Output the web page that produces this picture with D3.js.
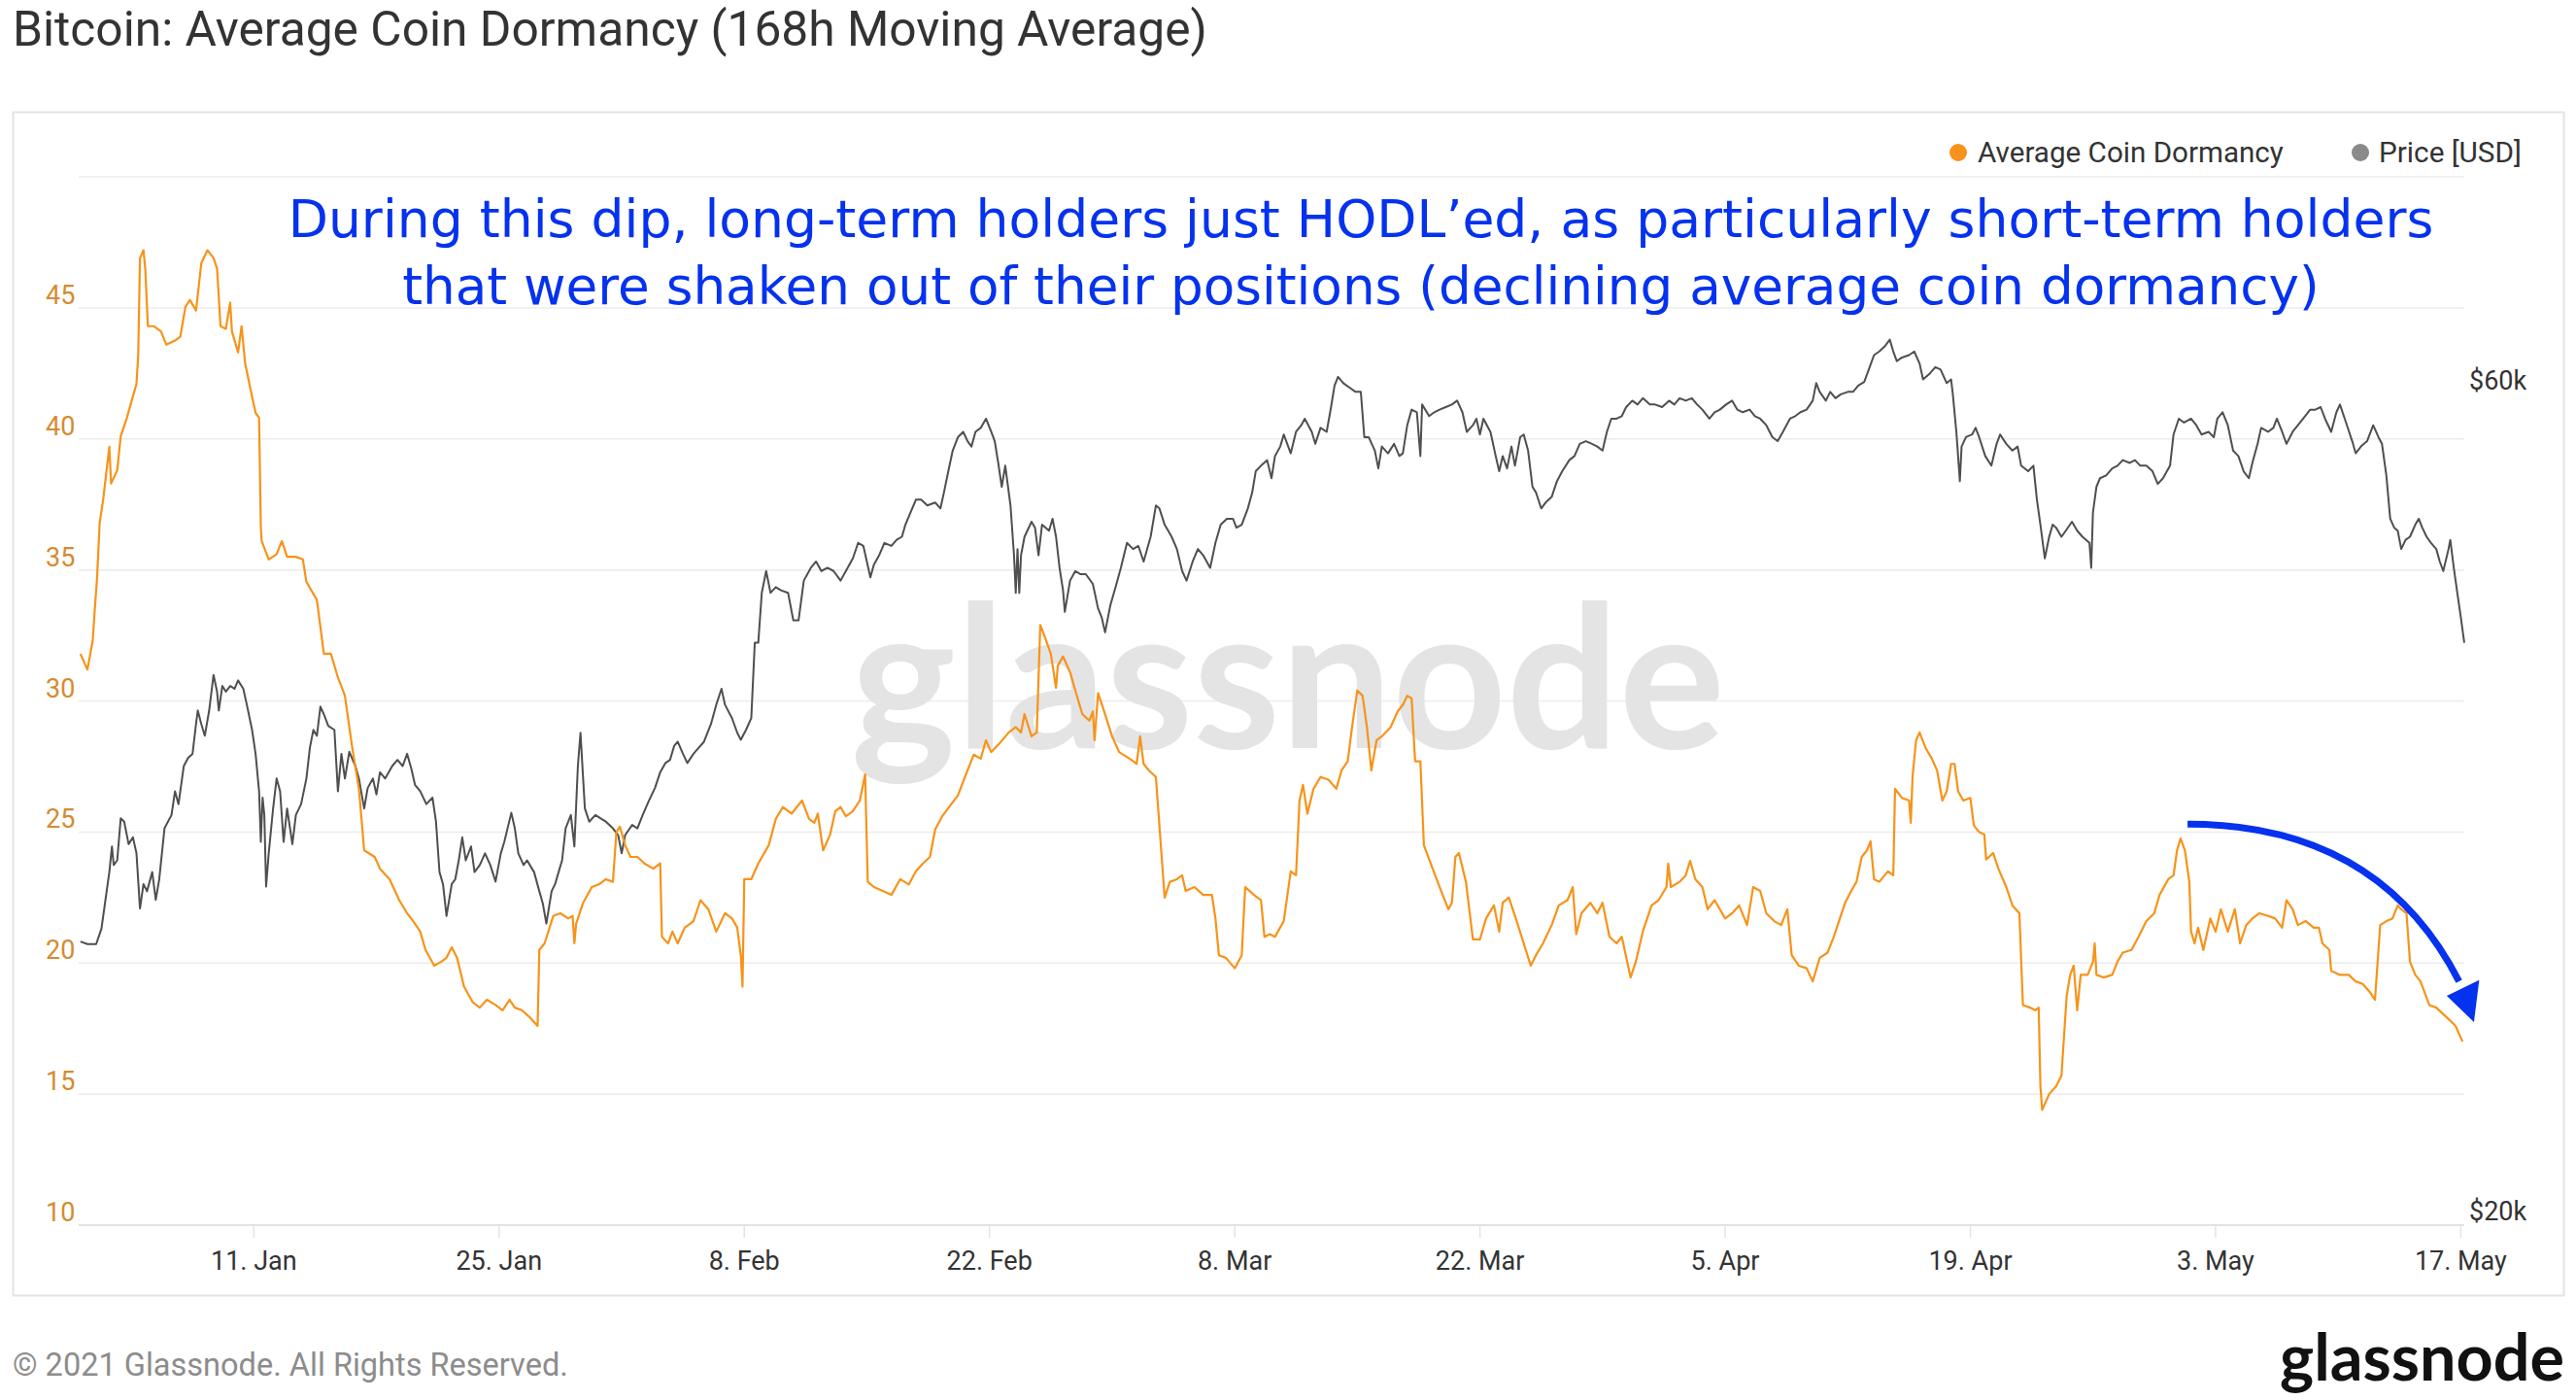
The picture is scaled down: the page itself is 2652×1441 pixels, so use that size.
<!DOCTYPE html>
<html><head><meta charset="utf-8">
<script src="https://cdn.jsdelivr.net/npm/d3@7"></script>
<style>html,body{margin:0;padding:0;background:#fff;}svg{display:block;}</style>
</head><body>
<svg id="chart" width="2652" height="1441"></svg>
<script>
// ---------------- data ----------------
const chartTitle = "Bitcoin: Average Coin Dormancy (168h Moving Average)";
const seriesNames = ["Average Coin Dormancy", "Price [USD]"];
const annotationLines = [
  "During this dip, long-term holders just HODL\u2019ed, as particularly short-term holders",
  "that were shaken out of their positions (declining average coin dormancy)"
];
const copyrightText = "\u00a9 2021 Glassnode. All Rights Reserved.";
const brandText = "glassnode";
const startDate = "2021-01-01T00:00:00Z";
const endDay = 136.2; // days after start shown on the x axis

// Average coin dormancy (days after 1 Jan 2021, value)
const dormancyDay = [0.1,0.5,0.8,0.9,1.05,1.2,1.4,1.75,1.85,2.2,2.4,2.75,3.3,3.4,3.5,3.7,3.8,3.95,4.3,4.7,5.0,5.5,5.8,6.1,6.35,6.7,7.0,7.35,7.7,7.9,8.1,8.4,8.65,8.75,9.1,9.3,9.5,9.9,10.1,10.3,10.4,10.45,10.85,11.3,11.6,11.9,12.4,12.8,13.0,13.6,14.0,14.4,14.8,15.2,15.6,16.0,16.3,16.9,17.2,17.75,18.3,18.75,19.1,19.5,19.8,20.3,20.7,21.0,21.3,21.6,22.0,22.5,22.9,23.3,23.8,24.2,24.6,24.9,25.3,25.8,26.2,26.3,26.6,27.1,27.5,27.95,28.2,28.3,28.4,28.8,29.3,29.7,30.1,30.5,30.7,30.9,31.2,31.5,31.9,32.3,32.8,33.2,33.3,33.65,33.9,34.2,34.6,35.1,35.5,35.95,36.4,36.9,37.3,37.6,37.8,37.9,38.0,38.4,38.8,39.4,39.8,40.2,40.7,41.0,41.3,41.7,42.0,42.2,42.5,42.9,43.2,43.5,43.8,44.2,44.6,44.9,45.05,45.4,45.9,46.4,46.9,47.4,47.8,48.2,48.6,48.9,49.3,49.8,50.2,50.6,51.1,51.5,51.8,52.1,52.6,53.1,53.5,53.8,54.0,54.4,54.7,54.9,55.1,55.5,55.8,55.9,56.2,56.6,56.9,57.3,57.7,57.9,58.0,58.2,58.5,59.0,59.4,60.0,60.4,60.6,60.8,61.1,61.5,62.0,62.3,62.7,63.0,63.2,63.7,64.2,64.7,64.9,65.1,65.5,66.0,66.4,66.6,67.1,67.5,67.7,68.0,68.3,68.8,69.2,69.5,69.7,69.9,70.15,70.5,70.9,71.35,71.8,72.1,72.45,72.7,73.0,73.3,73.55,73.8,74.1,74.4,74.9,75.3,75.6,75.85,76.1,76.3,76.6,76.8,77.3,77.7,78.2,78.4,78.6,78.8,79.2,79.6,80.0,80.35,80.8,81.1,81.3,81.65,82.1,82.5,82.9,83.2,83.6,84.1,84.5,85.0,85.3,85.5,85.8,86.3,86.7,87.0,87.4,87.8,88.1,88.6,88.9,89.3,89.8,90.2,90.65,90.75,90.9,91.4,91.75,92.0,92.3,92.7,93.0,93.4,94.0,94.4,94.8,95.25,95.6,96.0,96.35,96.8,97.2,97.55,97.8,98.2,98.65,99.0,99.4,99.85,100.2,100.5,100.85,101.2,101.5,101.8,102.1,102.3,102.5,102.8,103.3,103.6,103.7,104.1,104.5,104.6,104.7,104.9,105.1,105.45,105.8,106.1,106.4,106.65,106.9,107.1,107.3,107.6,108.0,108.2,108.5,108.8,108.9,109.3,109.6,110.05,110.4,110.8,111.0,111.4,111.7,111.9,112.0,112.1,112.5,112.9,113.2,113.5,113.7,113.9,114.1,114.3,114.7,115.0,115.1,115.2,115.6,116.1,116.4,116.7,117.2,117.6,118.05,118.5,118.8,119.3,119.6,119.8,120.0,120.25,120.5,120.6,120.8,121.0,121.3,121.7,122.0,122.3,122.7,123.1,123.4,123.75,124.1,124.5,125.0,125.4,125.8,126.05,126.4,126.7,127.15,127.6,127.9,128.1,128.5,128.6,129.1,129.6,130.0,130.4,130.8,131.1,131.4,131.75,132.1,132.4,132.6,132.9,133.1,133.4,133.7,134.2,134.6,135.0,135.4,135.7,136.1];
const dormancyValue = [31.8,31.2,32.3,33.3,34.7,36.8,37.7,39.7,38.3,38.8,40.1,40.8,42.1,43.2,46.9,47.2,46.5,44.3,44.3,44.1,43.6,43.75,43.9,45.05,45.3,44.9,46.7,47.2,46.9,46.5,44.3,44.2,45.2,44.1,43.3,44.3,42.9,41.6,41.0,40.8,36.6,36.1,35.4,35.6,36.1,35.5,35.5,35.4,34.55,33.85,31.8,31.8,30.9,30.2,28.3,26.65,24.3,24.05,23.6,23.2,22.4,21.9,21.6,21.2,20.5,19.9,20.05,20.2,20.6,20.2,19.1,18.5,18.3,18.6,18.4,18.2,18.6,18.3,18.2,17.9,17.6,20.5,20.75,21.8,21.9,21.7,21.8,20.75,21.5,22.3,22.9,23.0,23.2,23.1,25.0,25.2,24.5,24.05,24.05,23.8,23.6,23.8,21.0,20.75,21.2,20.75,21.35,21.6,22.4,22.05,21.2,21.9,21.7,21.35,20.3,19.1,23.2,23.2,23.8,24.5,25.5,25.95,25.7,25.95,26.2,25.5,25.35,25.7,24.3,24.9,25.8,25.95,25.6,25.8,26.2,27.2,23.1,22.9,22.75,22.6,23.2,23.0,23.5,23.8,24.05,25.1,25.6,26.05,26.4,27.1,27.95,27.8,28.5,28.05,28.4,28.8,29.0,28.8,29.5,28.65,28.8,32.9,32.55,31.8,30.5,31.35,31.7,31.1,30.4,29.5,29.25,29.6,28.5,30.3,29.7,28.65,28.05,27.8,27.6,28.65,27.6,27.35,27.1,22.5,23.1,23.2,23.35,22.75,22.9,22.6,22.6,21.7,20.3,20.2,19.8,20.3,22.9,22.6,22.4,21.0,21.1,21.0,21.6,23.5,23.35,26.2,26.8,25.7,26.65,27.1,27.0,26.65,27.35,27.7,29.0,30.4,30.2,29.0,27.35,28.5,28.65,29.0,29.6,29.85,30.2,30.1,27.7,27.7,24.5,23.6,22.9,22.05,22.3,24.05,24.2,23.1,20.9,20.9,21.7,22.2,21.2,22.3,22.5,21.6,20.75,19.9,20.3,20.75,21.45,22.2,22.4,22.9,21.1,21.9,22.3,21.9,22.3,21.0,20.75,21.0,19.45,20.05,21.2,22.2,22.4,22.9,23.8,22.9,23.1,23.35,23.9,23.2,22.9,22.05,22.4,21.7,21.9,22.2,21.45,22.9,22.75,21.9,21.6,21.45,22.05,20.3,19.9,19.8,19.3,20.2,20.4,21.0,21.6,22.3,22.75,23.1,24.05,24.3,24.65,23.2,23.1,23.5,23.35,26.65,26.3,26.2,25.35,27.1,28.5,28.8,28.2,27.8,27.35,26.2,26.55,27.6,27.6,26.55,26.2,26.3,25.25,25.0,24.9,23.95,24.2,23.6,22.9,22.2,21.9,18.4,18.3,18.2,18.3,15.3,14.4,15.0,15.3,15.7,18.75,19.55,19.9,18.2,19.55,19.55,20.05,20.75,19.55,19.45,19.55,20.05,20.4,20.5,21.0,21.6,21.9,22.6,23.2,23.35,24.3,24.75,24.3,23.1,21.2,20.75,21.35,20.5,21.7,21.2,22.05,21.2,22.05,20.75,21.45,21.7,21.9,21.8,21.7,21.35,22.4,22.05,21.45,21.6,21.35,21.35,20.75,20.5,19.7,19.55,19.55,19.3,19.2,18.9,18.6,21.45,21.6,21.7,22.2,22.05,21.9,20.05,19.55,19.3,18.4,18.3,18.05,17.8,17.6,17.0];

// BTC price in thousand USD (days after 1 Jan 2021, value)
const priceDay = [0.1,0.5,1.0,1.3,1.5,1.75,1.9,2.0,2.2,2.4,2.6,2.85,3.1,3.3,3.5,3.7,3.9,4.2,4.4,4.6,4.9,5.3,5.5,5.7,6.0,6.25,6.5,6.7,6.8,7.0,7.2,7.45,7.7,7.9,8.0,8.2,8.4,8.65,8.9,9.1,9.4,9.6,9.9,10.1,10.3,10.4,10.5,10.6,10.7,10.85,11.1,11.3,11.5,11.7,11.9,12.2,12.4,12.7,13.0,13.2,13.4,13.6,13.8,14.0,14.25,14.6,14.8,15.0,15.2,15.45,15.8,16.0,16.3,16.5,16.8,17.0,17.2,17.5,17.9,18.2,18.5,18.75,19.0,19.2,19.5,19.85,20.2,20.4,20.6,20.8,21.0,21.3,21.5,21.7,21.9,22.1,22.4,22.6,22.9,23.2,23.5,23.8,24.1,24.3,24.7,24.9,25.1,25.4,25.6,26.0,26.3,26.5,26.7,27.0,27.2,27.4,27.6,27.8,28.1,28.3,28.5,28.65,28.8,28.9,29.15,29.5,29.8,30.1,30.5,30.8,31.0,31.2,31.6,31.9,32.2,32.55,32.9,33.2,33.5,33.76,34.0,34.2,34.5,34.75,35.1,35.4,35.7,36.1,36.4,36.7,36.9,37.3,37.6,37.8,38.1,38.4,38.6,38.8,39.0,39.25,39.5,39.8,40.1,40.5,40.8,41.1,41.4,41.8,42.1,42.4,42.75,43.1,43.5,43.8,44.2,44.5,44.8,45.2,45.4,45.7,46.0,46.4,46.7,47.0,47.2,47.5,47.8,48.1,48.45,48.9,49.2,49.4,49.65,49.9,50.2,50.5,50.75,50.97,51.2,51.5,51.8,52.1,52.3,52.5,52.7,52.9,53.2,53.4,53.5,53.6,53.7,53.8,54.0,54.4,54.6,54.8,55.0,55.4,55.6,55.8,56.0,56.2,56.3,56.6,56.9,57.2,57.5,57.9,58.2,58.4,58.6,58.9,59.2,59.5,59.85,60.2,60.5,60.8,61.2,61.5,61.7,62.0,62.4,62.7,63.0,63.25,63.6,63.9,64.2,64.6,64.9,65.2,65.55,65.9,66.1,66.4,66.75,67.0,67.2,67.5,67.85,68.1,68.3,68.6,68.8,69.2,69.5,69.8,70.0,70.4,70.6,70.9,71.25,71.5,71.7,71.9,72.2,72.6,72.9,73.2,73.4,73.65,74.0,74.2,74.4,74.75,75.1,75.4,75.6,75.85,76.1,76.4,76.6,76.7,77.1,77.4,77.7,78.05,78.4,78.7,79.0,79.25,79.6,79.8,80.0,80.2,80.6,80.9,81.1,81.3,81.55,81.8,82.0,82.3,82.5,82.75,83.0,83.2,83.5,83.75,84.1,84.4,84.7,85.1,85.4,85.7,86.05,86.4,86.7,87.0,87.25,87.5,87.8,88.1,88.35,88.7,89.0,89.3,89.7,90.0,90.4,90.8,91.1,91.4,91.75,92.1,92.4,92.7,93.1,93.4,93.7,94.05,94.4,94.7,95.0,95.4,95.7,96.0,96.35,96.7,97.0,97.3,97.7,98.0,98.3,98.65,99.0,99.2,99.4,99.75,100.0,100.3,100.6,101.0,101.3,101.6,101.94,102.2,102.5,102.8,103.15,103.4,103.6,103.8,104.1,104.5,104.8,105.1,105.3,105.7,106.0,106.3,106.65,106.9,107.0,107.2,107.3,107.4,107.5,107.75,108.1,108.3,108.5,108.85,109.2,109.5,109.7,110.05,110.4,110.7,110.9,111.3,111.6,111.8,112.0,112.25,112.5,112.7,112.9,113.2,113.45,113.8,114.1,114.4,114.8,114.9,115.0,115.2,115.4,115.75,116.1,116.4,116.7,117.1,117.4,117.7,118.05,118.4,118.7,119.0,119.4,119.6,119.9,120.2,120.6,120.9,121.2,121.6,121.9,122.1,122.4,122.7,123.0,123.3,123.6,123.9,124.1,124.4,124.6,125.0,125.3,125.5,125.8,126.05,126.4,126.7,127.0,127.4,127.7,128.0,128.25,128.6,128.9,129.1,129.45,129.8,130.0,130.3,130.65,131.0,131.3,131.5,131.75,131.97,132.2,132.4,132.6,132.85,133.1,133.4,133.6,133.8,134.05,134.3,134.6,134.8,135.0,135.3,135.4,135.6,135.8,136.0,136.2];
const priceValue = [29.1,29.0,29.0,29.6,30.6,31.9,33.0,32.2,32.4,34.25,34.1,33.1,33.4,32.7,30.4,31.4,31.1,31.9,30.75,31.6,33.8,34.4,35.5,34.9,36.7,37.1,37.3,38.8,39.5,38.8,38.2,39.5,41.4,40.5,39.5,40.8,40.5,40.8,40.65,41.1,40.65,39.8,38.5,37.3,35.5,33.2,35.2,34.4,31.3,32.7,34.7,36.1,35.5,33.2,34.7,33.1,34.4,34.9,36.1,37.6,38.5,38.2,39.7,39.3,38.7,38.5,35.5,37.3,36.1,37.4,36.7,36.1,34.7,35.65,36.1,35.35,36.4,36.1,36.7,37.0,36.7,37.3,36.55,35.8,35.5,34.9,35.2,34.1,31.9,31.4,30.1,31.4,31.6,32.4,33.4,32.4,33.0,31.9,32.2,32.7,32.2,31.5,32.7,33.2,34.5,33.8,32.7,32.2,32.4,31.9,31.1,30.6,29.8,31.1,31.4,31.9,32.4,33.8,34.4,33.0,36.7,38.35,36.1,34.7,34.1,34.4,34.25,34.1,33.8,33.5,32.7,33.5,33.95,33.8,34.4,35.05,35.65,36.4,36.85,37.0,37.7,37.9,37.3,36.85,37.3,37.6,37.9,38.8,39.8,40.65,39.8,39.1,38.35,38.0,38.5,39.1,43.2,43.2,46.15,47.5,46.15,46.5,46.3,46.15,44.5,44.5,46.9,47.7,48.1,47.5,47.7,47.5,46.9,47.5,48.3,49.3,49.1,47.1,47.9,48.5,49.3,49.1,49.5,49.7,50.5,51.35,52.2,52.2,51.8,52.0,51.6,52.7,54.2,55.7,56.7,57.1,56.4,56.0,57.1,57.4,58.1,57.1,56.4,54.8,53.1,54.6,51.8,48.5,46.15,48.9,46.15,48.5,49.7,50.7,50.3,48.5,50.5,50.1,50.9,49.7,47.7,46.3,45.0,46.9,47.5,47.3,47.3,46.7,45.2,44.7,43.8,45.4,46.5,47.7,49.3,48.9,49.1,48.1,49.7,51.8,51.6,50.5,49.7,48.9,47.5,46.9,48.1,48.9,48.5,47.7,49.3,50.5,50.9,50.9,50.3,50.5,51.6,52.7,54.2,54.6,55.0,53.7,55.3,56.0,56.9,55.5,57.1,57.6,58.1,57.1,56.2,57.4,57.1,59.0,60.7,61.4,60.9,60.5,60.2,60.2,56.7,56.7,55.7,54.4,56.0,55.5,56.2,55.3,55.5,57.6,58.8,58.6,55.3,59.2,58.3,58.6,58.8,59.0,59.2,59.5,58.6,57.1,57.6,58.1,56.9,58.1,57.1,55.3,54.2,55.3,54.4,56.0,54.6,56.7,56.9,55.7,53.1,52.7,51.6,52.0,52.4,53.5,54.2,55.0,55.3,56.2,56.4,56.2,56.0,55.7,57.1,58.1,58.1,58.3,59.0,59.5,59.2,59.7,59.2,59.2,59.0,59.5,59.2,59.7,59.5,59.7,59.2,58.8,58.1,58.6,58.8,59.2,59.5,58.8,58.6,58.8,58.3,58.1,57.6,56.7,56.4,57.1,58.1,58.3,58.6,58.8,59.5,60.9,60.2,59.5,60.2,59.7,60.0,60.2,60.2,60.7,61.0,62.0,63.2,63.5,64.0,64.5,63.5,62.7,63.0,63.2,63.5,62.5,61.2,61.7,62.2,62.0,60.9,61.2,60.0,57.1,55.3,53.5,56.0,56.7,56.9,57.4,56.7,55.3,54.6,56.2,56.9,56.2,55.7,56.0,54.6,54.2,54.6,52.2,50.5,48.3,49.7,50.5,50.3,49.7,50.1,50.7,50.1,49.7,49.3,47.7,51.35,53.1,53.7,53.9,54.4,54.6,55.0,54.8,55.0,54.6,54.6,54.2,53.3,53.7,54.6,56.9,58.1,57.8,58.1,57.6,56.9,57.1,56.7,58.1,58.6,57.6,55.7,55.3,54.2,53.7,54.8,56.2,57.4,57.1,57.4,58.1,57.1,56.2,57.1,57.6,58.1,58.8,58.8,59.0,58.1,57.1,58.6,59.2,57.8,56.4,55.5,56.0,56.4,57.6,56.7,56.2,53.9,50.9,50.3,50.1,48.9,49.5,49.7,50.5,50.9,50.3,49.7,49.3,48.9,48.1,47.5,48.9,49.5,47.7,46.15,44.7,43.2];

// axes
const xTickDates = ["2021-01-11","2021-01-25","2021-02-08","2021-02-22","2021-03-08","2021-03-22","2021-04-05","2021-04-19","2021-05-03","2021-05-17"];
const xTickLabels = ["11. Jan","25. Jan","8. Feb","22. Feb","8. Mar","22. Mar","5. Apr","19. Apr","3. May","17. May"];
const leftGridValues = [10,15,20,25,30,35,40,45,50];
const leftTickLabels = ["10","15","20","25","30","35","40","45"];
const rightTickValues = [20,60];
const rightTickLabels = ["$20k","$60k"];
const leftDomain = [10,50];
const rightDomain = [20,80];

// annotation arrow in data space (day, dormancy): start, control, end, then head
const arrowCurveDay = [120.4, 131.3, 135.9];
const arrowCurveValue = [25.3, 25.3, 19.3];
const arrowHeadDay = [135.2, 137.05, 136.75];
const arrowHeadValue = [18.75, 19.35, 17.75];

// ---------------- drawing ----------------
const svg = d3.select("#chart");
const plot = {left: 81, right: 2537, top: 182, bottom: 1261};
const colors = {orange: "#f7931a", grey: "#4f4f4f", legendGrey: "#8a8a8a", blue: "#0532ee",
  grid: "#ececec", axisLabel: "#d58b30", text: "#333333"};

const t0 = new Date(startDate);
const dayToDate = d => new Date(t0.getTime() + d * 864e5);
const x = d3.scaleUtc().domain([t0, dayToDate(endDay)]).range([plot.left, plot.right]);
const yL = d3.scaleLinear().domain(leftDomain).range([plot.bottom, plot.top]);
const yR = d3.scaleLog().domain(rightDomain).range([plot.bottom, plot.top]);

function fitWidth(sel, target) {
  const w = sel.node().getComputedTextLength();
  const fs = parseFloat(sel.attr("font-size"));
  sel.attr("font-size", fs * target / w);
}

// title
const titleSel = svg.append("text").attr("x", 13).attr("y", 47)
  .attr("font-family", "Roboto, sans-serif").attr("font-size", 44).attr("fill", "#333")
  .text(chartTitle);
fitWidth(titleSel, 1230);

// frame
svg.append("rect").attr("x", 13.5).attr("y", 115.5).attr("width", 2626).attr("height", 1218)
  .attr("fill", "none").attr("stroke", "#e3e3e3").attr("stroke-width", 2);

// gridlines
svg.append("g").selectAll("line").data(leftGridValues).join("line")
  .attr("x1", plot.left).attr("x2", plot.right)
  .attr("y1", d => yL(d)).attr("y2", d => yL(d))
  .attr("stroke", d => d === leftDomain[0] ? "#d9d9d9" : colors.grid).attr("stroke-width", 1.5);

// x ticks
const xTicks = xTickDates.map(s => new Date(s + "T00:00:00Z"));
svg.append("g").selectAll("line").data(xTicks).join("line")
  .attr("x1", d => x(d)).attr("x2", d => x(d))
  .attr("y1", plot.bottom).attr("y2", plot.bottom + 13)
  .attr("stroke", "#e3e3e3").attr("stroke-width", 1.5);
svg.append("g").selectAll("text").data(xTicks).join("text")
  .attr("x", d => x(d)).attr("y", 1307).attr("text-anchor", "middle")
  .attr("font-family", "Roboto, sans-serif").attr("font-size", 27).attr("fill", colors.text)
  .text((d, i) => xTickLabels[i]);

// left labels
svg.append("g").selectAll("text").data(leftTickLabels).join("text")
  .attr("x", 47).attr("y", d => yL(+d) - 4)
  .attr("font-family", "Roboto, sans-serif").attr("font-size", 27).attr("fill", colors.axisLabel)
  .text(d => d);

// right labels
svg.append("g").selectAll("text").data(rightTickValues).join("text")
  .attr("x", 2542).attr("y", d => yR(d) - 5)
  .attr("font-family", "Roboto, sans-serif").attr("font-size", 27).attr("fill", colors.text)
  .text((d, i) => rightTickLabels[i]);

// watermark
const wm = svg.append("text").attr("x", 1326).attr("y", 770).attr("text-anchor", "middle")
  .attr("font-family", "Lato, sans-serif").attr("font-weight", 700).attr("font-size", 190)
  .attr("fill", "#e4e4e4").text(brandText);
fitWidth(wm, 900);

// price line
const priceLine = d3.line().x((d, i) => x(dayToDate(priceDay[i]))).y(d => yR(d));
svg.append("path").datum(priceValue).attr("d", priceLine)
  .attr("fill", "none").attr("stroke", colors.grey).attr("stroke-width", 2)
  .attr("stroke-linejoin", "round");

// dormancy line
const dormLine = d3.line().x((d, i) => x(dayToDate(dormancyDay[i]))).y(d => yL(d));
svg.append("path").datum(dormancyValue).attr("d", dormLine)
  .attr("fill", "none").attr("stroke", colors.orange).attr("stroke-width", 2.2)
  .attr("stroke-linejoin", "round");

// legend
const legend = svg.append("g");
const legendItems = [
  {name: seriesNames[0], color: colors.orange, cx: 2016, tx: 2036, w: 315},
  {name: seriesNames[1], color: colors.legendGrey, cx: 2430, tx: 2449, w: 147}
];
legendItems.forEach(it => {
  legend.append("circle").attr("cx", it.cx).attr("cy", 157).attr("r", 9).attr("fill", it.color);
  const t = legend.append("text").attr("x", it.tx).attr("y", 167)
    .attr("font-family", "Roboto, sans-serif").attr("font-size", 28).attr("fill", colors.text)
    .text(it.name);
  fitWidth(t, it.w);
});

// annotation text (two lines)
const annWidths = [2209, 1974];
const annBase = [244, 313];
annotationLines.forEach((s, i) => {
  const t = svg.append("text").attr("x", 1401).attr("y", annBase[i]).attr("text-anchor", "middle")
    .attr("font-family", "'DejaVu Sans', sans-serif").attr("font-size", 48).attr("fill", colors.blue)
    .text(s);
  fitWidth(t, annWidths[i]);
});

// arrow
const curvePts = arrowCurveDay.map((d, i) => [x(dayToDate(d)), yL(arrowCurveValue[i])]);
const p = d3.path();
p.moveTo(curvePts[0][0], curvePts[0][1]);
p.quadraticCurveTo(curvePts[1][0], curvePts[1][1], curvePts[2][0], curvePts[2][1]);
svg.append("path").attr("d", p.toString()).attr("fill", "none")
  .attr("stroke", colors.blue).attr("stroke-width", 7);
const headPts = arrowHeadDay.map((d, i) => [x(dayToDate(d)), yL(arrowHeadValue[i])]);
svg.append("path").attr("d", "M" + headPts.map(q => q.join(",")).join("L") + "Z")
  .attr("fill", colors.blue);

// footer
const cp = svg.append("text").attr("x", 13).attr("y", 1416)
  .attr("font-family", "Roboto, sans-serif").attr("font-size", 30).attr("fill", "#8c8c8c")
  .text(copyrightText);
fitWidth(cp, 572);
const logo = svg.append("text").attr("x", 2640).attr("y", 1421).attr("text-anchor", "end")
  .attr("font-family", "Lato, sans-serif").attr("font-weight", 700).attr("font-size", 62)
  .attr("fill", "#111").text(brandText);
fitWidth(logo, 293);
</script>
</body></html>
